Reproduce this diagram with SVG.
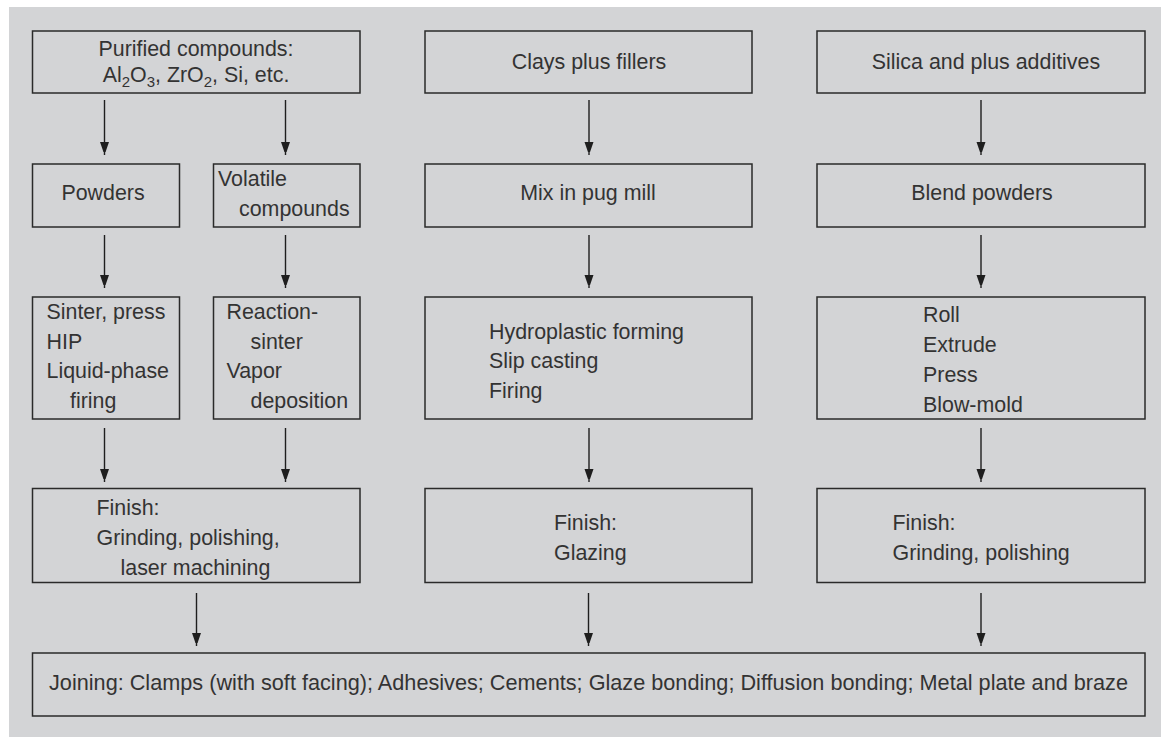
<svg xmlns="http://www.w3.org/2000/svg" width="1161" height="755" viewBox="0 0 1161 755">
<defs>
<marker id="ah" markerUnits="userSpaceOnUse" markerWidth="10" markerHeight="14" refX="13" refY="4.5" orient="auto">
<path d="M0,0 L13,4.5 L0,9 Z" fill="#1e1e1e"/>
</marker>
</defs>
<style>
.box{fill:none;stroke:#2a2a2a;stroke-width:1.5}
.t{font-family:"Liberation Sans",Arial,sans-serif;font-size:21.4px;fill:#333}
.m{text-anchor:middle}
.c{stroke:#1e1e1e;stroke-width:1.4;fill:none;marker-end:url(#ah)}
</style>
<rect x="0" y="0" width="1161" height="755" fill="#ffffff"/>
<rect x="9" y="7" width="1152" height="730" fill="#d3d4d6"/>

<g id="n-purified">
<rect class="box" x="32.5" y="31" width="327.5" height="62"/>
<text class="t m" x="196" y="56">Purified compounds:</text>
<text class="t m" x="196" y="82">Al<tspan dy="5" font-size="15">2</tspan><tspan dy="-5">O</tspan><tspan dy="5" font-size="15">3</tspan><tspan dy="-5">, ZrO</tspan><tspan dy="5" font-size="15">2</tspan><tspan dy="-5">, Si, etc.</tspan></text>
</g>
<g id="n-clays">
<rect class="box" x="425" y="31" width="327" height="62"/>
<text class="t m" x="589" y="69">Clays plus fillers</text>
</g>
<g id="n-silica">
<rect class="box" x="817" y="31" width="328" height="62"/>
<text class="t m" x="986" y="69">Silica and plus additives</text>
</g>

<g id="n-powders">
<rect class="box" x="32.5" y="164" width="147" height="63"/>
<text class="t m" x="103" y="200">Powders</text>
</g>
<g id="n-volatile">
<rect class="box" x="213.5" y="164" width="146.5" height="63"/>
<text class="t" x="218" y="186">Volatile</text>
<text class="t" x="239" y="216">compounds</text>
</g>
<g id="n-pug">
<rect class="box" x="425" y="164" width="327" height="63"/>
<text class="t m" x="588" y="200">Mix in pug mill</text>
</g>
<g id="n-blend">
<rect class="box" x="817" y="164" width="328" height="63"/>
<text class="t m" x="982" y="200">Blend powders</text>
</g>

<g id="n-sinter">
<rect class="box" x="32.5" y="297" width="147" height="122"/>
<text class="t" x="46.5" y="319">Sinter, press</text>
<text class="t" x="46.5" y="348.5">HIP</text>
<text class="t" x="46.5" y="378">Liquid-phase</text>
<text class="t" x="70" y="407.5">firing</text>
</g>
<g id="n-reaction">
<rect class="box" x="213.5" y="297" width="146.5" height="122"/>
<text class="t" x="226.5" y="319">Reaction-</text>
<text class="t" x="250.5" y="348.5">sinter</text>
<text class="t" x="226.5" y="378">Vapor</text>
<text class="t" x="250.5" y="407.5">deposition</text>
</g>
<g id="n-hydro">
<rect class="box" x="425" y="297" width="327" height="122"/>
<text class="t" x="489" y="338.5">Hydroplastic forming</text>
<text class="t" x="489" y="368">Slip casting</text>
<text class="t" x="489" y="397.5">Firing</text>
</g>
<g id="n-roll">
<rect class="box" x="817" y="297" width="328" height="122"/>
<text class="t" x="923" y="321.5">Roll</text>
<text class="t" x="923" y="351.5">Extrude</text>
<text class="t" x="923" y="381.5">Press</text>
<text class="t" x="923" y="411.5">Blow-mold</text>
</g>

<g id="n-finish1">
<rect class="box" x="32.5" y="488.5" width="327.5" height="94"/>
<text class="t" x="96.5" y="515">Finish:</text>
<text class="t" x="96.5" y="545">Grinding, polishing,</text>
<text class="t" x="120.5" y="575">laser machining</text>
</g>
<g id="n-finish2">
<rect class="box" x="425" y="488.5" width="327" height="94"/>
<text class="t" x="554" y="529.5">Finish:</text>
<text class="t" x="554" y="559.5">Glazing</text>
</g>
<g id="n-finish3">
<rect class="box" x="817" y="488.5" width="328" height="94"/>
<text class="t" x="892.5" y="529.5">Finish:</text>
<text class="t" x="892.5" y="559.5">Grinding, polishing</text>
</g>

<g id="n-joining">
<rect class="box" x="32.5" y="653" width="1112.5" height="63"/>
<text class="t" x="49" y="690" textLength="1079" lengthAdjust="spacingAndGlyphs">Joining: Clamps (with soft facing); Adhesives; Cements; Glaze bonding; Diffusion bonding; Metal plate and braze</text>
</g>

<g id="connectors">
<line class="c" x1="104.5" y1="100" x2="104.5" y2="155"/>
<line class="c" x1="285.5" y1="100" x2="285.5" y2="155"/>
<line class="c" x1="589" y1="100" x2="589" y2="155"/>
<line class="c" x1="981" y1="100" x2="981" y2="155"/>
<line class="c" x1="104.5" y1="235" x2="104.5" y2="288"/>
<line class="c" x1="285.5" y1="235" x2="285.5" y2="288"/>
<line class="c" x1="589" y1="235" x2="589" y2="288"/>
<line class="c" x1="981" y1="235" x2="981" y2="288"/>
<line class="c" x1="104.5" y1="428" x2="104.5" y2="482"/>
<line class="c" x1="285.5" y1="428" x2="285.5" y2="482"/>
<line class="c" x1="589" y1="428" x2="589" y2="482"/>
<line class="c" x1="981" y1="428" x2="981" y2="482"/>
<line class="c" x1="196.5" y1="593" x2="196.5" y2="646"/>
<line class="c" x1="588.5" y1="593" x2="588.5" y2="646"/>
<line class="c" x1="981" y1="593" x2="981" y2="646"/>
</g>
</svg>
